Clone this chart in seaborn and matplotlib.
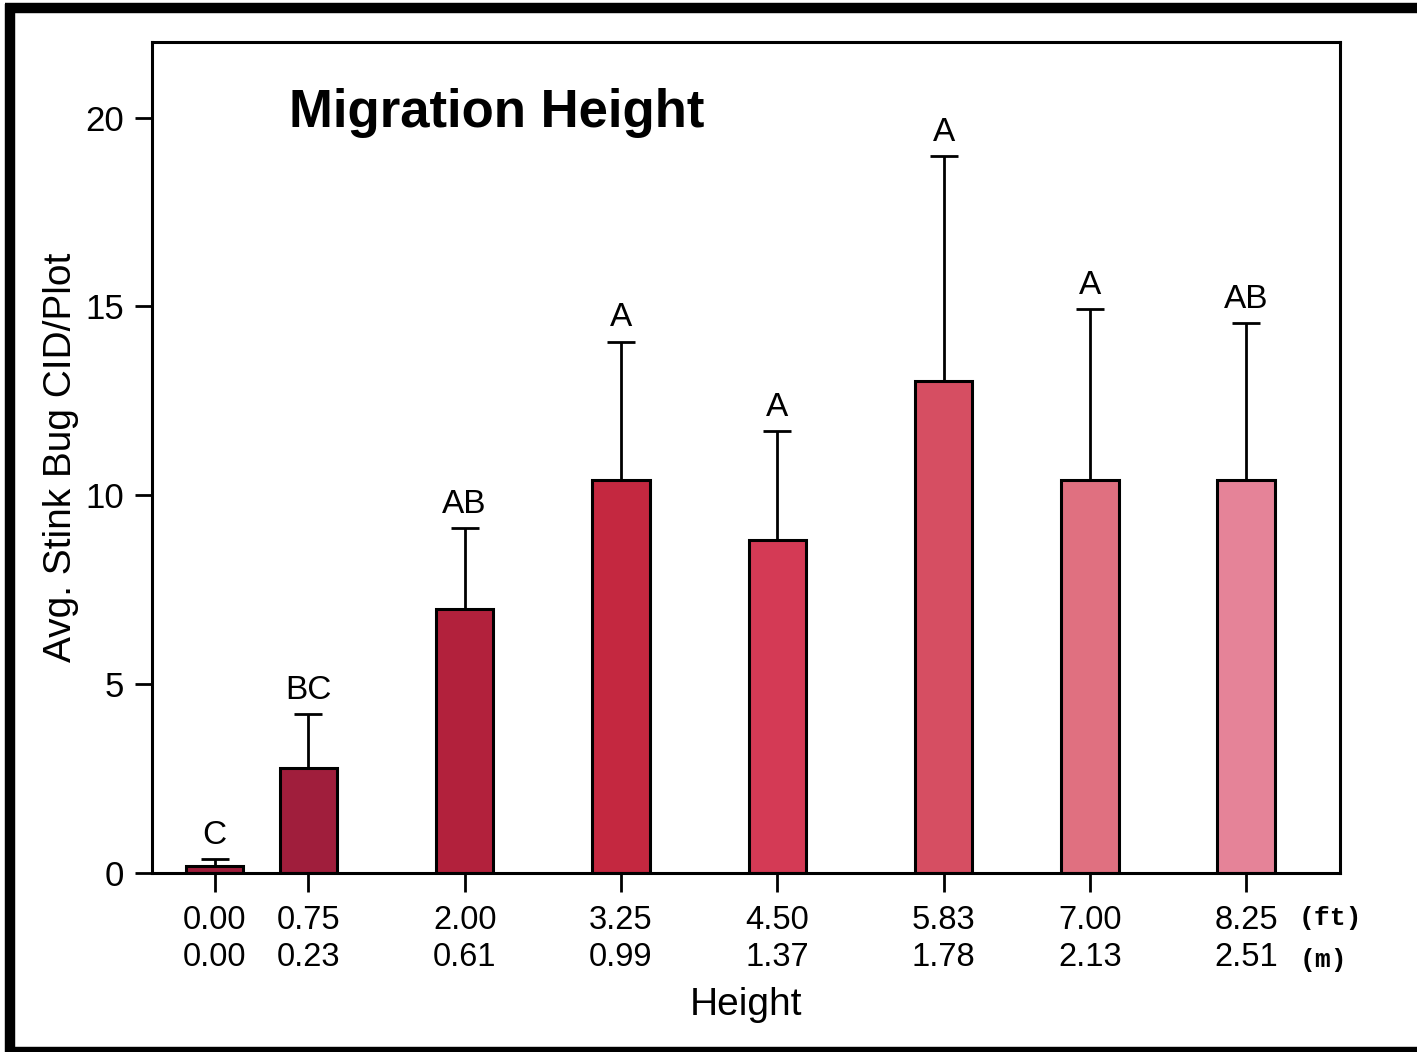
import seaborn as sns
import matplotlib.pyplot as plt
import pandas as pd
from matplotlib.lines import Line2D

height_ft = [0.00, 0.75, 2.00, 3.25, 4.50, 5.83, 7.00, 8.25]
height_m = ['0.00', '0.23', '0.61', '0.99', '1.37', '1.78', '2.13', '2.51']
avg_cid = [0.18, 2.78, 6.98, 10.4, 8.81, 13.02, 10.4, 10.4]
sem = [0.19, 1.42, 2.15, 3.67, 2.88, 5.95, 4.52, 4.15]
letters = ['C', 'BC', 'AB', 'A', 'A', 'A', 'A', 'AB']
bar_colors = ['#9E1C3A', '#A01E3C', '#B2213C', '#C42840',
              '#D43A55', '#D64E62', '#E07080', '#E58398']

sns.set_theme(style='white')
plt.rcParams['font.family'] = ['Liberation Sans', 'DejaVu Sans']
plt.rcParams['text.color'] = 'black'
plt.rcParams['axes.labelcolor'] = 'black'
plt.rcParams['xtick.color'] = 'black'
plt.rcParams['ytick.color'] = 'black'

df = pd.DataFrame({'height': height_ft, 'cid': avg_cid,
                   'label': [f'{h:.2f}' for h in height_ft]})

fig = plt.figure(figsize=(14.17, 10.52), dpi=100)
ax = fig.add_axes([152 / 1417, 1 - 873 / 1052, (1340 - 152) / 1417, (873 - 42) / 1052])

sns.barplot(data=df, x='height', y='cid', hue='label', palette=bar_colors,
            saturation=1, native_scale=True, width=0.46 / 0.75,
            edgecolor='black', linewidth=2.2, legend=False, ax=ax)

# upper error bars only
ax.errorbar(height_ft, avg_cid, yerr=[[0] * len(sem), sem], fmt='none',
            ecolor='black', elinewidth=2, capsize=10, capthick=2, zorder=1)

for x, y, e, t in zip(height_ft, avg_cid, sem, letters):
    ax.text(x, y + e + 0.22, t, ha='center', va='bottom', fontsize=24)

ax.set_xlim(-0.5, 9.0)
ax.set_ylim(0, 22)
ax.set_yticks([0, 5, 10, 15, 20])
ax.set_xticks(height_ft)
ax.set_xticklabels([f'{h:.2f}\n{m}' for h, m in zip(height_ft, height_m)],
                   linespacing=1.25)
ax.tick_params(axis='x', direction='out', length=14, width=2, labelsize=23.5, pad=9,
               bottom=True)
ax.tick_params(axis='y', direction='out', length=12, width=2, labelsize=25, pad=8,
               left=True)
for s in ax.spines.values():
    s.set_linewidth(2.2)
    s.set_color('black')

ax.set_xlabel('Height', fontsize=28, labelpad=10)
ax.set_ylabel('Avg. Stink Bug CID/Plot', fontsize=28, labelpad=5)

ax.text(0.115, 0.915, 'Migration Height', transform=ax.transAxes,
        fontsize=38, fontweight='bold', ha='left', va='center')

fig.text(1330 / 1417, 1 - 918 / 1052, '(ft)', family='Liberation Mono',
         fontweight='bold', fontsize=19, ha='center', va='center')
fig.text(1323 / 1417, 1 - 960 / 1052, '(m)', family='Liberation Mono',
         fontweight='bold', fontsize=19, ha='center', va='center')

# thick black frame round the picture (open on the right)
frame_kw = dict(color='black', linewidth=7.5, transform=fig.transFigure,
                solid_capstyle='butt')
fig.add_artist(Line2D([10 / 1417, 10 / 1417], [0, 1 - 4 / 1052], **frame_kw))
fig.add_artist(Line2D([5 / 1417, 1], [1 - 8 / 1052, 1 - 8 / 1052], **frame_kw))
fig.add_artist(Line2D([5 / 1417, 1], [0, 0], **frame_kw))

fig.savefig('out.png', dpi=100)
